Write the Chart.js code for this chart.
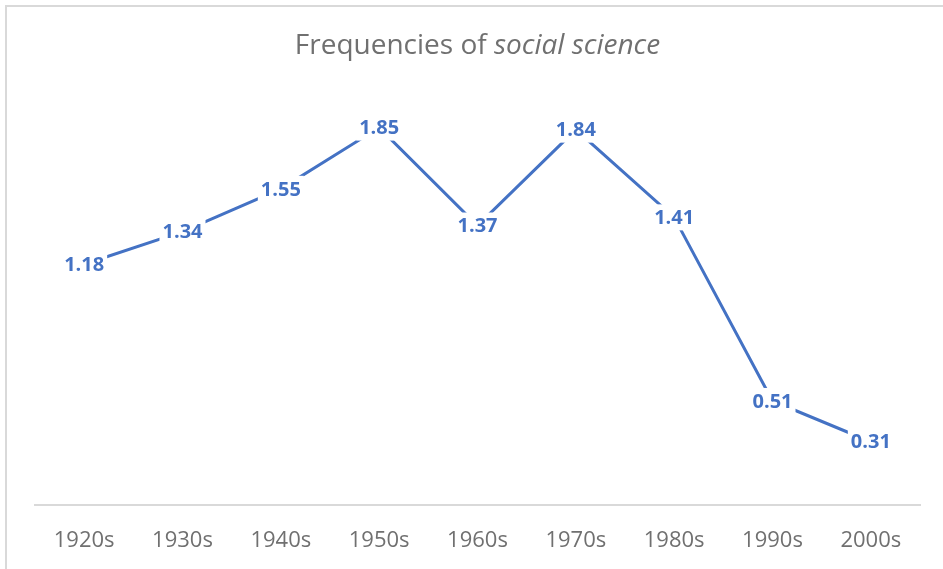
<!DOCTYPE html>
<html>
<head>
<meta charset="utf-8">
<script src="https://cdn.jsdelivr.net/npm/chart.js@4/dist/chart.umd.min.js"></script>
<style>
  html, body { margin: 0; padding: 0; background: #fff; }
  #wrap { width: 943px; height: 569px; position: relative; }
</style>
</head>
<body>
<div id="wrap"><canvas id="chart"></canvas></div>
<script>
const decades = ["1920s", "1930s", "1940s", "1950s", "1960s", "1970s", "1980s", "1990s", "2000s"];
const frequencies = [1.18, 1.34, 1.55, 1.85, 1.37, 1.84, 1.41, 0.51, 0.31];
const titlePlain = "Frequencies of ";
const titleItalic = "social science";

const blue = "#4472C4";
const gray = "#707070";

// title with mixed normal / italic text
const titlePlugin = {
  id: "mixedTitle",
  afterDraw(chart) {
    const ctx = chart.ctx;
    const area = chart.chartArea;
    ctx.save();
    ctx.fillStyle = gray;
    ctx.textBaseline = "middle";
    ctx.font = "28px 'Open Sans'";
    const w1 = ctx.measureText(titlePlain).width;
    ctx.font = "italic 28px 'Open Sans'";
    const w2 = ctx.measureText(titleItalic).width;
    let x = (area.left + area.right) / 2 - (w1 + w2) / 2;
    ctx.textAlign = "left";
    ctx.font = "28px 'Open Sans'";
    ctx.fillText(titlePlain, x, 46);
    ctx.font = "italic 28px 'Open Sans'";
    ctx.fillText(titleItalic, x + w1, 46);
    ctx.restore();
  }
};

// value labels centered on the points, hiding the line behind them
const valueLabels = {
  id: "valueLabels",
  afterDatasetsDraw(chart) {
    const ctx = chart.ctx;
    const meta = chart.getDatasetMeta(0);
    ctx.save();
    ctx.font = "bold 20px 'Open Sans'";
    ctx.textAlign = "center";
    ctx.textBaseline = "middle";
    meta.data.forEach((pt, i) => {
      const txt = frequencies[i].toFixed(2);
      const w = ctx.measureText(txt).width;
      ctx.fillStyle = "#fff";
      ctx.fillRect(pt.x - w / 2 - 3, pt.y - 13, w + 6, 26);
      ctx.fillStyle = blue;
      ctx.fillText(txt, pt.x, pt.y + 1);
    });
    ctx.restore();
  }
};

// light frame on the top and left edges
const framePlugin = {
  id: "frame",
  afterDraw(chart) {
    const ctx = chart.ctx;
    ctx.save();
    ctx.strokeStyle = "#d9d9d9";
    ctx.lineWidth = 2;
    ctx.beginPath();
    ctx.moveTo(6, 569);
    ctx.lineTo(6, 6);
    ctx.lineTo(943, 6);
    ctx.stroke();
    ctx.restore();
  }
};

new Chart(document.getElementById("chart"), {
  type: "line",
  data: {
    labels: decades,
    datasets: [{
      data: frequencies,
      borderColor: blue,
      borderWidth: 3,
      pointRadius: 0,
      tension: 0,
      fill: false
    }]
  },
  options: {
    responsive: true,
    maintainAspectRatio: false,
    animation: false,
    layout: { padding: { left: 35, right: 23, top: 97, bottom: 0 } },
    plugins: {
      legend: { display: false },
      title: { display: false },
      tooltip: { enabled: false }
    },
    scales: {
      x: {
        offset: true,
        grid: { display: false, drawTicks: false },
        border: { display: true, color: "#d9d9d9", width: 2 },
        ticks: {
          color: gray,
          padding: 23,
          maxRotation: 0,
          font: { family: "'Open Sans'", size: 22 }
        },
        afterFit(scale) { scale.height = 64; }
      },
      y: {
        display: false,
        min: 0,
        max: 2
      }
    }
  },
  plugins: [titlePlugin, valueLabels, framePlugin]
});
</script>
</body>
</html>
